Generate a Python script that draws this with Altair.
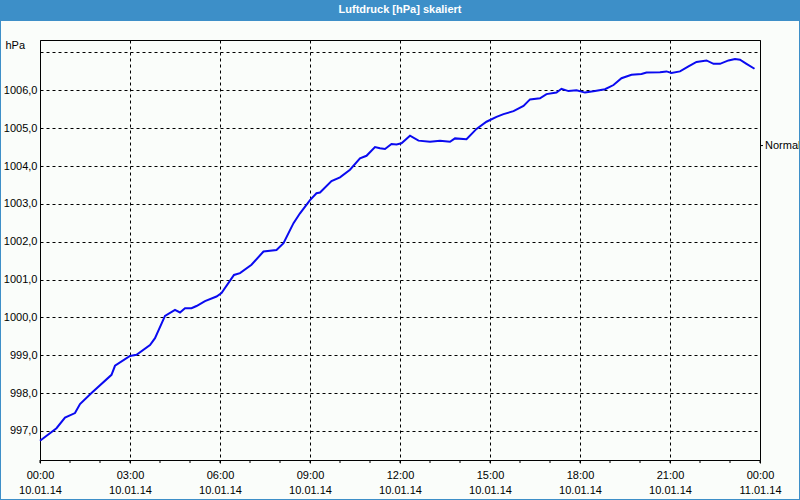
import altair as alt
import pandas as pd

TITLE = "Luftdruck [hPa] skaliert"
UNIT = "hPa"
NORMAL_LABEL = "Normal"
NORMAL_LEVEL = 1004.54

times = ["00:00", "00:33", "00:50", "01:10", "01:20", "01:43", "02:23", "02:30", "03:00", "03:13",
         "03:40", "03:50", "04:10", "04:30", "04:40", "04:50", "05:03", "05:13", "05:30", "05:53",
         "06:03", "06:28", "06:40", "07:03", "07:27", "07:53", "08:07", "08:27", "08:40", "09:00",
         "09:13", "09:20", "09:43", "10:00", "10:20", "10:40", "10:53", "11:10", "11:20", "11:30",
         "11:43", "11:53", "12:03", "12:20", "12:37", "13:00", "13:20", "13:40", "13:50", "14:13",
         "14:33", "14:53", "15:13", "15:27", "15:47", "16:07", "16:20", "16:40", "16:53", "17:13",
         "17:23", "17:37", "17:53", "18:10", "18:30", "18:50", "19:07", "19:23", "19:43", "20:03",
         "20:13", "20:40", "20:53", "21:03", "21:20", "21:37", "21:53", "22:13", "22:27", "22:40",
         "22:57", "23:10", "23:20", "23:33", "23:49"]
values = [996.74, 997.07, 997.35, 997.47, 997.71, 998.00, 998.48, 998.72, 998.98, 999.01,
          999.27, 999.45, 1000.04, 1000.20, 1000.13, 1000.24, 1000.24, 1000.30, 1000.43, 1000.55,
          1000.64, 1001.12, 1001.17, 1001.39, 1001.74, 1001.78, 1001.96, 1002.49, 1002.75, 1003.10,
          1003.28, 1003.30, 1003.60, 1003.70, 1003.90, 1004.20, 1004.27, 1004.50, 1004.47, 1004.45,
          1004.58, 1004.57, 1004.60, 1004.80, 1004.67, 1004.64, 1004.67, 1004.64, 1004.73, 1004.71,
          1004.98, 1005.17, 1005.30, 1005.37, 1005.45, 1005.59, 1005.76, 1005.79, 1005.90, 1005.94,
          1006.04, 1005.98, 1006.00, 1005.94, 1005.98, 1006.03, 1006.14, 1006.32, 1006.41, 1006.43,
          1006.47, 1006.48, 1006.50, 1006.46, 1006.50, 1006.63, 1006.75, 1006.79, 1006.70, 1006.70,
          1006.79, 1006.83, 1006.81, 1006.70, 1006.57]

y_ticks = [997, 998, 999, 1000, 1001, 1002, 1003, 1004, 1005, 1006, 1007]
y_domain = [996.23, 1007.33]

BLUE = "#3d8fc8"
LINE = "#0a0af0"
BG = "#fafdfa"
FONT = "Liberation Sans"

df = pd.DataFrame({"t": ["2014-01-10T" + t + ":00" for t in times], "v": values})
hours = pd.DataFrame({"t": [f"2014-01-10T{h:02d}:00:00" for h in range(24)] + ["2014-01-11T00:00:00"]})

x_values = [alt.DateTime(year=2014, month=1, date=10, hours=h) for h in range(0, 24, 3)] + \
           [alt.DateTime(year=2014, month=1, date=11, hours=0)]
x_scale = alt.Scale(domain=[alt.DateTime(year=2014, month=1, date=10, hours=0),
                            alt.DateTime(year=2014, month=1, date=11, hours=0)], nice=False)
y_scale = alt.Scale(domain=y_domain, nice=False, zero=False)

x_axis = alt.Axis(values=x_values, title=None, grid=True, gridColor="black", gridDash=[3, 3],
                  gridOpacity=1, domain=False, ticks=True, tickSize=3, tickColor="black",
                  labelExpr="[timeFormat(datum.value, '%H:%M'), timeFormat(datum.value, '%d.%m.%y')]",
                  labelLineHeight=15, labelPadding=6, labelFont=FONT, labelFontSize=11,
                  labelColor="black", labelBaseline="top", labelFlush=False, labelOverlap=False)
y_axis = alt.Axis(values=y_ticks, title=None, grid=True, gridColor="black", gridDash=[3, 3],
                  gridOpacity=1, domain=False, ticks=False, tickSize=0, labelPadding=3,
                  labelExpr="datum.value >= 1007 ? '' : replace(format(datum.value, '.1f'), '.', ',')",
                  labelFont=FONT, labelFontSize=11, labelColor="black", labelFlush=False,
                  labelOverlap=False)

line = alt.Chart(df).mark_line(color=LINE, strokeWidth=2, interpolate="linear").encode(
    x=alt.X("t:T", scale=x_scale, axis=x_axis),
    y=alt.Y("v:Q", scale=y_scale, axis=y_axis),
)

hour_ticks = alt.Chart(hours).mark_rule(color="black", strokeWidth=1).encode(
    x=alt.X("t:T", scale=x_scale),
    y=alt.value(420), y2=alt.value(423),
)

one = pd.DataFrame({"a": [0]})
normal_df = pd.DataFrame({"v": [NORMAL_LEVEL], "label": [NORMAL_LABEL]})

normal_tick = alt.Chart(normal_df).mark_rule(color="black").encode(
    x=alt.value(720), x2=alt.value(723), y=alt.Y("v:Q", scale=y_scale),
)
normal_text = alt.Chart(normal_df).mark_text(align="left", baseline="middle", font=FONT,
                                              fontSize=11, color="black").encode(
    x=alt.value(725), y=alt.Y("v:Q", scale=y_scale), text="label:N",
)

unit_text = alt.Chart(one).mark_text(align="right", baseline="middle", font=FONT, fontSize=11,
                                     color="black").encode(
    x=alt.value(-15), y=alt.value(6), text=alt.value(UNIT),
)

title_bar = alt.Chart(one).mark_rect(color=BLUE, opacity=1).encode(
    x=alt.value(-40), x2=alt.value(760), y=alt.value(-40), y2=alt.value(-19),
)
title_text = alt.Chart(one).mark_text(align="center", baseline="middle", font=FONT, fontSize=11,
                                      fontWeight="bold", color="white").encode(
    x=alt.value(360), y=alt.value(-30), text=alt.value(TITLE),
)
border = alt.Chart(one).mark_rect(fillOpacity=0, stroke=BLUE, strokeWidth=2).encode(
    x=alt.value(-40), x2=alt.value(760), y=alt.value(-40), y2=alt.value(460),
)

chart = alt.layer(hour_ticks, line, normal_tick, normal_text, unit_text, title_bar, title_text, border).properties(
    width=720, height=420,
    padding={"left": 40, "top": 40, "right": 40, "bottom": 40},
    autosize=alt.AutoSizeParams(type="none"),
    background=BG,
).configure_view(stroke="black", strokeWidth=1, fill=BG)

chart.save("out.html", embed_options={"renderer": "svg", "actions": False})
